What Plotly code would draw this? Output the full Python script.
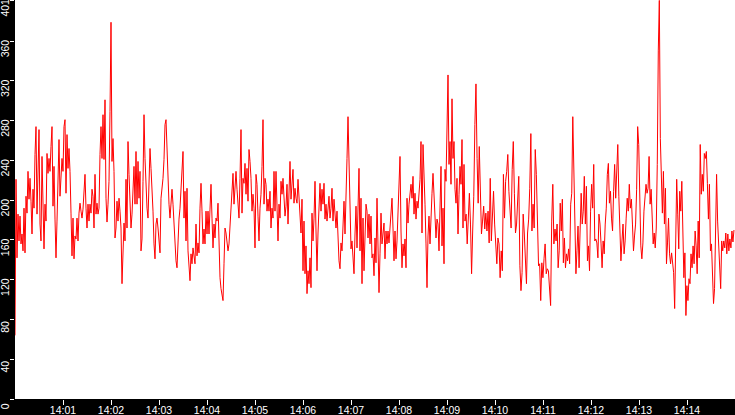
import pandas as pd
import plotly.graph_objects as go

# readings, one list per 1m52.5s slice of the 15 minute window (90 px each in the original)
seg_1 = [64, 221, 142, 186, 159, 184, 156, 166, 149, 192,
         147, 204, 187, 229, 201, 222, 199, 166, 211, 192,
         246, 274, 186, 237, 271, 176, 159, 244, 201, 151,
         196, 179, 247, 227, 242, 229, 254, 274, 194, 234,
         181, 142, 179, 242, 261, 204, 229, 242, 229, 274,
         281, 207, 266, 232, 252, 229, 187, 144, 182, 141,
         164, 161, 182, 159, 187, 197, 189, 182, 191, 207,
         226, 192, 172, 196, 179, 196, 187, 211, 204, 172,
         226, 186, 197, 186, 192, 246, 274, 242, 286, 241]
seg_2 = [301, 202, 178, 196, 219, 289, 379, 239, 262, 229,
         162, 172, 199, 179, 202, 189, 172, 116, 149, 177,
         159, 221, 172, 259, 226, 192, 172, 186, 206, 234,
         196, 249, 196, 239, 202, 229, 149, 161, 219, 286,
         242, 207, 192, 182, 232, 252, 232, 212, 189, 156,
         141, 176, 182, 172, 157, 147, 202, 212, 222, 241,
         276, 281, 249, 229, 196, 182, 202, 211, 196, 176,
         159, 139, 132, 159, 181, 192, 216, 226, 249, 182,
         209, 159, 212, 149, 129, 119, 146, 136, 152, 144]
seg_3 = [136, 176, 144, 157, 147, 192, 217, 189, 156, 171,
         156, 189, 166, 189, 166, 191, 216, 182, 152, 176,
         162, 182, 179, 197, 156, 122, 111, 104, 99, 136,
         172, 167, 156, 149, 156, 176, 192, 209, 227, 196,
         212, 229, 211, 192, 182, 222, 271, 187, 222, 217,
         237, 206, 232, 199, 251, 239, 222, 189, 206, 192,
         152, 226, 216, 184, 159, 192, 206, 234, 281, 196,
         222, 216, 189, 201, 189, 209, 172, 192, 182, 229,
         189, 229, 182, 159, 196, 182, 219, 206, 222, 202]
seg_4 = [184, 194, 216, 176, 224, 239, 201, 214, 231, 197,
         212, 202, 197, 221, 199, 182, 167, 201, 129, 179,
         126, 154, 106, 129, 116, 142, 112, 187, 159, 182,
         219, 169, 129, 167, 196, 217, 189, 211, 196, 217,
         181, 196, 179, 189, 204, 182, 192, 212, 179, 201,
         189, 172, 189, 154, 139, 131, 157, 149, 179, 199,
         166, 197, 242, 284, 232, 176, 151, 159, 146, 126,
         166, 194, 152, 204, 232, 149, 202, 116, 182, 129,
         172, 196, 189, 162, 186, 156, 184, 142, 146, 124]
seg_5 = [162, 137, 202, 166, 107, 146, 187, 156, 167, 177,
         141, 169, 156, 169, 157, 172, 186, 202, 172, 139,
         169, 141, 159, 182, 217, 244, 169, 132, 156, 144,
         161, 132, 202, 177, 196, 207, 216, 202, 224, 186,
         207, 181, 199, 192, 204, 221, 259, 167, 256, 232,
         196, 156, 112, 164, 184, 156, 189, 207, 227, 202,
         176, 162, 181, 176, 149, 212, 234, 154, 192, 136,
         231, 219, 272, 326, 236, 259, 216, 302, 242, 259,
         211, 197, 222, 166, 206, 234, 216, 261, 172, 236]
seg_6 = [179, 186, 156, 179, 207, 176, 126, 169, 204, 276,
         317, 242, 197, 254, 209, 166, 179, 194, 171, 187,
         169, 189, 157, 222, 159, 194, 209, 176, 149, 136,
         162, 156, 122, 149, 129, 226, 182, 219, 229, 246,
         209, 194, 172, 231, 259, 207, 167, 176, 204, 224,
         134, 109, 127, 186, 167, 129, 116, 167, 181, 212,
         267, 169, 196, 172, 251, 226, 164, 134, 136, 99,
         137, 122, 141, 156, 126, 131, 129, 112, 94, 179,
         216, 156]
seg_7 = [171, 159, 176, 132, 149, 197, 169, 201, 137, 162,
         132, 146, 139, 151, 136, 196, 207, 284, 224, 147,
         126, 149, 174, 132, 169, 207, 176, 189, 224, 176,
         214, 139, 154, 129, 189, 216, 192, 236, 159, 161,
         157, 142, 186, 176, 156, 132, 159, 146, 176, 192,
         226, 237, 197, 209, 182, 169, 209, 236, 202, 229,
         256, 204, 172, 139, 159, 176, 146, 159, 182, 202,
         189, 216, 192, 201, 176, 149, 164, 176, 211, 274,
         256, 209, 154, 141, 157, 189]
seg_8 = [202, 216, 207, 212, 244, 196, 211, 186, 156, 167,
         152, 172, 236, 351, 401, 262, 207, 187, 229, 176,
         212, 136, 157, 182, 146, 136, 147, 136, 127, 91,
         159, 221, 186, 151, 209, 189, 219, 149, 122, 147,
         84, 114, 99, 121, 116, 146, 132, 154, 136, 169,
         154, 126, 179, 142, 256, 206, 226, 209, 247, 242,
         249, 217, 181, 216, 149, 156, 116, 96, 111, 169,
         226, 179, 152, 122, 111, 159, 149, 159, 152, 167,
         146, 166, 149, 161, 152, 169, 158, 170]

y_tickvals = [0, 40, 80, 120, 160, 200, 240, 280, 320, 360, 401]
x_ticktext = ["14:01", "14:02", "14:03", "14:04", "14:05", "14:06", "14:07",
              "14:08", "14:09", "14:10", "14:11", "14:12", "14:13", "14:14"]

start = pd.Timestamp("2024-01-01 14:00:00")
end = start + pd.Timedelta(minutes=15)
list_segment = [seg_1, seg_2, seg_3, seg_4, seg_5, seg_6, seg_7, seg_8]
seg_seconds = 15 * 60 / len(list_segment)

list_x = []
list_y = []
for k, seg in enumerate(list_segment):
    t0 = start + pd.Timedelta(seconds=k * seg_seconds)
    step = seg_seconds / len(seg)
    for i, value in enumerate(seg):
        list_x.append(t0 + pd.Timedelta(seconds=i * step))
        list_y.append(value)

x_tickvals = [start + pd.Timedelta(minutes=i + 1) for i in range(len(x_ticktext))]

fig = go.Figure()
fig.add_trace(go.Scatter(x=list_x, y=list_y, mode="lines", line=dict(color="#ff0000", width=1)))

fig.update_layout(
    template="none",
    width=735,
    height=415,
    margin=dict(l=15, r=0, t=0, b=16),
    paper_bgcolor="black",
    plot_bgcolor="white",
    showlegend=False,
    font=dict(family="Liberation Sans", size=11, color="white"),
)
fig.update_xaxes(
    type="date",
    range=[start, end],
    tickvals=x_tickvals,
    ticktext=x_ticktext,
    tickfont=dict(size=10.5),
    ticks="outside",
    ticklen=5,
    tickwidth=1,
    tickcolor="white",
    ticklabelstandoff=-4,
    showgrid=False,
    zeroline=False,
    showline=False,
    automargin=False,
)
fig.update_yaxes(
    range=[0, 401.4],
    tickvals=y_tickvals,
    ticktext=[str(v) for v in y_tickvals],
    tickangle=-90,
    tickfont=dict(size=10.5),
    ticks="outside",
    ticklen=4,
    tickwidth=1,
    tickcolor="white",
    ticklabelshift=9,
    ticklabelstandoff=-3,
    ticklabeloverflow="allow",
    showgrid=False,
    zeroline=False,
    showline=False,
    automargin=False,
)

# page has an 8px body margin by default, drop it so the figure fills the window
fig.write_html(
    "out.html",
    config={"displayModeBar": False},
    post_script="document.body.style.margin = '0';",
)
